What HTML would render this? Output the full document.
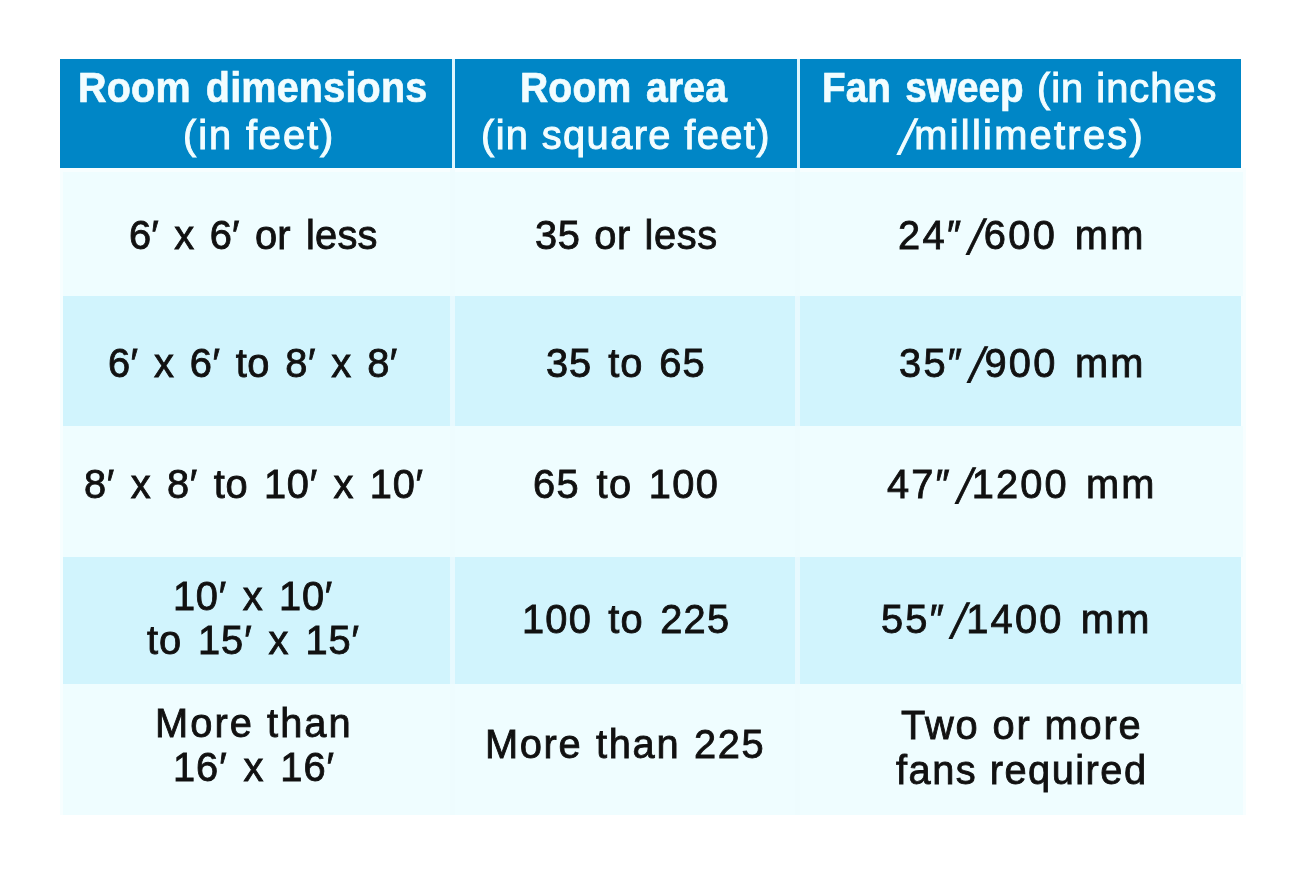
<!DOCTYPE html>
<html lang="en">
<head>
<meta charset="utf-8">
<title>Fan size guide</title>
<style>
html,body{margin:0;padding:0;background:#fff;}
body{width:1300px;height:873px;position:relative;overflow:hidden;font-family:"Liberation Sans",sans-serif;}
.tbl{position:absolute;left:0;top:0;width:1300px;height:873px;}
.halo,.row,.cell,.sep{position:absolute;}
.halo{left:60px;top:168px;width:1186px;height:647px;background:#f7feff;}
.hd{background:#0086c6;}
.lt{background:#effdff;}
.dk{background:#d1f4fd;}
.sep.hs{top:59px;width:3px;height:109px;background:#dff6fd;}
.sep.bs{top:168px;height:647px;background:#eefbfe;opacity:.75;}
.t{position:absolute;white-space:nowrap;line-height:1;word-spacing:4px;}
.t.h{color:#f2fdff;-webkit-text-stroke:1px #f2fdff;}
.t.b{color:#111;-webkit-text-stroke:0.85px #111;}
.t i.sl{font-style:normal;display:inline-block;margin:0 4px 0 3px;transform:translateY(5.5px) skewX(-15deg) scaleY(1.22);transform-origin:50% 84.7%;}
.t b{font-weight:700;font-size:1.045em;-webkit-text-stroke:0.7px #f2fdff;}
</style>
</head>
<body>
<div class="tbl" role="table" aria-label="Fan sweep by room size">
<div class="halo"></div>
<div class="row hdr" role="row" style="left:60px;top:59px;width:1181px;height:109px">
 <div class="cell hd" role="columnheader" style="left:0px;top:0;width:392px;height:109px">
  <span class="t h" id="h1a" style="left:18.00px;top:8.40px;font-size:39.80px;letter-spacing:0.232px;transform:scaleX(0.950);transform-origin:0 0"><b>Room dimensions</b></span>
  <span class="t h" id="h1b" style="left:123.00px;top:56.55px;font-size:39.80px;letter-spacing:1.906px;word-spacing:0px">(in feet)</span>
 </div>
 <div class="cell hd" role="columnheader" style="left:395px;top:0;width:342px;height:109px">
  <span class="t h" id="h2a" style="left:65.00px;top:8.40px;font-size:39.80px;letter-spacing:0.156px;transform:scaleX(0.940);transform-origin:0 0"><b>Room area</b></span>
  <span class="t h" id="h2b" style="left:26.00px;top:56.55px;font-size:39.80px;letter-spacing:1.383px;word-spacing:0px">(in square feet)</span>
 </div>
 <div class="cell hd" role="columnheader" style="left:740px;top:0;width:441px;height:109px">
  <span class="t h" id="h3a" style="left:22.00px;top:8.40px;font-size:39.80px;letter-spacing:0.031px;transform:scaleX(0.930);transform-origin:0 0"><b>Fan sweep</b></span>
  <span class="t h" id="h3a2" style="left:237.00px;top:10.30px;font-size:39.80px;letter-spacing:1.000px;word-spacing:0px">(in inches</span>
  <span class="t h" id="h3b" style="left:94.00px;top:56.55px;font-size:39.80px;letter-spacing:2.271px"><i class="sl">/</i>millimetres)</span>
 </div>
</div>
<div class="row lt" role="row" style="left:63px;top:172px;width:1180px;height:124px">
 <div class="cell" role="cell" style="left:0px;top:0;width:389px;height:124px">
  <span class="t b" id="r1a" style="left:66.00px;top:43.90px;font-size:39.80px;letter-spacing:0.214px">6′ x 6′ or less</span>
 </div>
 <div class="cell" role="cell" style="left:392px;top:0;width:342px;height:124px">
  <span class="t b" id="r1b" style="left:80.00px;top:43.90px;font-size:39.80px;letter-spacing:0.611px;word-spacing:2px">35 or less</span>
 </div>
 <div class="cell" role="cell" style="left:737px;top:0;width:443px;height:124px">
  <span class="t b" id="r1c" style="left:98.00px;top:43.90px;font-size:39.80px;letter-spacing:2.361px">24″<i class="sl">/</i>600 mm</span>
 </div>
</div>
<div class="row dk" role="row" style="left:63px;top:296px;width:1178px;height:130px">
 <div class="cell" role="cell" style="left:0px;top:0;width:389px;height:130px">
  <span class="t b" id="r2a" style="left:45.00px;top:48.30px;font-size:39.80px;letter-spacing:0.441px">6′ x 6′ to 8′ x 8′</span>
 </div>
 <div class="cell" role="cell" style="left:392px;top:0;width:342px;height:130px">
  <span class="t b" id="r2b" style="left:91.00px;top:48.30px;font-size:39.80px;letter-spacing:0.964px">35 to 65</span>
 </div>
 <div class="cell" role="cell" style="left:737px;top:0;width:441px;height:130px">
  <span class="t b" id="r2c" style="left:99.00px;top:48.30px;font-size:39.80px;letter-spacing:2.250px">35″<i class="sl">/</i>900 mm</span>
 </div>
</div>
<div class="row lt" role="row" style="left:63px;top:426px;width:1180px;height:131px">
 <div class="cell" role="cell" style="left:0px;top:0;width:389px;height:131px">
  <span class="t b" id="r3a" style="left:21.00px;top:38.70px;font-size:39.80px;letter-spacing:0.684px">8′ x 8′ to 10′ x 10′</span>
 </div>
 <div class="cell" role="cell" style="left:392px;top:0;width:342px;height:131px">
  <span class="t b" id="r3b" style="left:78.00px;top:38.70px;font-size:39.80px;letter-spacing:1.375px">65 to 100</span>
 </div>
 <div class="cell" role="cell" style="left:737px;top:0;width:443px;height:131px">
  <span class="t b" id="r3c" style="left:87.00px;top:38.70px;font-size:39.80px;letter-spacing:2.100px">47″<i class="sl">/</i>1200 mm</span>
 </div>
</div>
<div class="row dk" role="row" style="left:63px;top:557px;width:1178px;height:127px">
 <div class="cell" role="cell" style="left:0px;top:0;width:389px;height:127px">
  <span class="t b" id="r4a1" style="left:110.00px;top:20.30px;font-size:39.80px;letter-spacing:0.719px">10′ x 10′</span>
  <span class="t b" id="r4a2" style="left:84.00px;top:64.00px;font-size:39.80px;letter-spacing:0.932px">to 15′ x 15′</span>
 </div>
 <div class="cell" role="cell" style="left:392px;top:0;width:342px;height:127px">
  <span class="t b" id="r4b" style="left:67.00px;top:43.30px;font-size:39.80px;letter-spacing:1.222px">100 to 225</span>
 </div>
 <div class="cell" role="cell" style="left:737px;top:0;width:441px;height:127px">
  <span class="t b" id="r4c" style="left:81.00px;top:43.30px;font-size:39.80px;letter-spacing:2.200px">55″<i class="sl">/</i>1400 mm</span>
 </div>
</div>
<div class="row lt" role="row" style="left:63px;top:684px;width:1180px;height:131px">
 <div class="cell" role="cell" style="left:0px;top:0;width:389px;height:131px">
  <span class="t b" id="r5a1" style="left:92.00px;top:20.05px;font-size:39.80px;letter-spacing:2.062px;word-spacing:0px">More than</span>
  <span class="t b" id="r5a2" style="left:110.00px;top:64.30px;font-size:39.80px;letter-spacing:0.938px">16′ x 16′</span>
 </div>
 <div class="cell" role="cell" style="left:392px;top:0;width:342px;height:131px">
  <span class="t b" id="r5b" style="left:30.00px;top:40.80px;font-size:39.80px;letter-spacing:1.667px;word-spacing:1px">More than 225</span>
 </div>
 <div class="cell" role="cell" style="left:737px;top:0;width:443px;height:131px">
  <span class="t b" id="r5c1" style="left:101.00px;top:21.80px;font-size:39.80px;letter-spacing:1.850px;word-spacing:0px">Two or more</span>
  <span class="t b" id="r5c2" style="left:96.00px;top:66.80px;font-size:39.80px;letter-spacing:1.479px;word-spacing:0px">fans required</span>
 </div>
</div>
<div class="sep hs" style="left:452px"></div>
<div class="sep hs" style="left:797px"></div>
<div class="sep bs" style="left:449.5px;width:5px"></div>
<div class="sep bs" style="left:794.5px;width:5.5px"></div>
</div>
</body>
</html>
